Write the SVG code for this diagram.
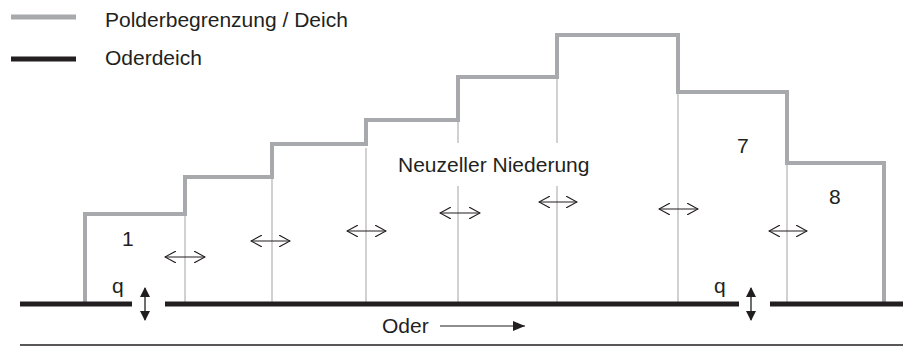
<svg xmlns="http://www.w3.org/2000/svg" width="903" height="346" viewBox="0 0 903 346">
<style>
text{font-family:"Liberation Sans",Arial,sans-serif;font-size:21px;fill:#231f20}
.polder{fill:none;stroke:#a7a9ac;stroke-width:4;stroke-linejoin:miter}
.oder{stroke:#231f20;stroke-width:5}
.thin{stroke:#b3b3b3;stroke-width:1.2}
.ex{stroke:#231f20;stroke-width:1.1;marker-start:url(#chev);marker-end:url(#chev)}
.q{stroke:#6d6e71;stroke-width:2;marker-start:url(#tri);marker-end:url(#tri)}
</style>
<defs>
<marker id="chev" viewBox="0 0 12 12" refX="11" refY="6" markerWidth="12" markerHeight="12" markerUnits="userSpaceOnUse" orient="auto-start-reverse">
<path d="M0,0 L11,6 L0,12" fill="none" stroke="#231f20" stroke-width="1.1"/>
</marker>
<marker id="tri" viewBox="0 0 10 10" refX="9" refY="5" markerWidth="10" markerHeight="10" markerUnits="userSpaceOnUse" orient="auto-start-reverse">
<path d="M0,0 L10,5 L0,10 Z" fill="#231f20"/>
</marker>
<marker id="tri2" viewBox="0 0 12 10" refX="12" refY="5" markerWidth="12" markerHeight="10" markerUnits="userSpaceOnUse" orient="auto">
<path d="M0,0 L12,5 L0,10 Z" fill="#231f20"/>
</marker>
</defs>
<rect width="903" height="346" fill="#fff"/>
<g id="legend">
<line x1="11" y1="17" x2="76" y2="17" stroke="#a7a9ac" stroke-width="5"/>
<text x="105" y="27">Polderbegrenzung / Deich</text>
<line x1="11" y1="59" x2="76" y2="59" stroke="#231f20" stroke-width="5"/>
<text x="105" y="65">Oderdeich</text>
</g>
<g id="polder-dividers">
<line class="thin" x1="185" y1="214" x2="185" y2="304"/>
<line class="thin" x1="272" y1="177" x2="272" y2="304"/>
<line class="thin" x1="366" y1="148" x2="366" y2="304"/>
<line class="thin" x1="458" y1="120" x2="458" y2="143"/>
<line class="thin" x1="458" y1="186" x2="458" y2="304"/>
<line class="thin" x1="557" y1="77" x2="557" y2="143"/>
<line class="thin" x1="557" y1="186" x2="557" y2="304"/>
<line class="thin" x1="678" y1="92" x2="678" y2="304"/>
<line class="thin" x1="787" y1="163" x2="787" y2="304"/>
</g>
<g id="polder-boundary">
<polyline class="polder" points="85,304 85,214 185,214 185,177 272,177 272,144 366,144 366,120 458,120 458,77 557,77 557,35 678,35 678,92 787,92 787,163 884,163 884,304"/>
</g>
<g id="oderdeich">
<line class="oder" x1="20" y1="304" x2="132" y2="304"/>
<line class="oder" x1="165" y1="304" x2="739" y2="304"/>
<line class="oder" x1="770" y1="304" x2="903" y2="304"/>
<line x1="20" y1="345" x2="903" y2="345" stroke="#231f20" stroke-width="1.5"/>
</g>
<g id="labels">
<text x="122" y="246">1</text>
<text x="398" y="172">Neuzeller Niederung</text>
<text x="737" y="153">7</text>
<text x="829" y="204">8</text>
<text x="112" y="293">q</text>
<text x="714" y="293">q</text>
<text x="382" y="333">Oder</text>
</g>
<g id="connectors">
<line class="ex" x1="165" y1="257" x2="205" y2="257"/>
<line class="ex" x1="251" y1="241" x2="290" y2="241"/>
<line class="ex" x1="347" y1="231" x2="386" y2="231"/>
<line class="ex" x1="440" y1="213" x2="480" y2="213"/>
<line class="ex" x1="539" y1="202" x2="577" y2="202"/>
<line class="ex" x1="659" y1="209" x2="698" y2="209"/>
<line class="ex" x1="769" y1="231" x2="807" y2="231"/>
<line class="q" x1="145" y1="288" x2="145" y2="320"/>
<line class="q" x1="751" y1="288" x2="751" y2="320"/>
<line x1="440" y1="326" x2="525" y2="326" stroke="#231f20" stroke-width="1.2" marker-end="url(#tri2)"/>
</g>
</svg>
